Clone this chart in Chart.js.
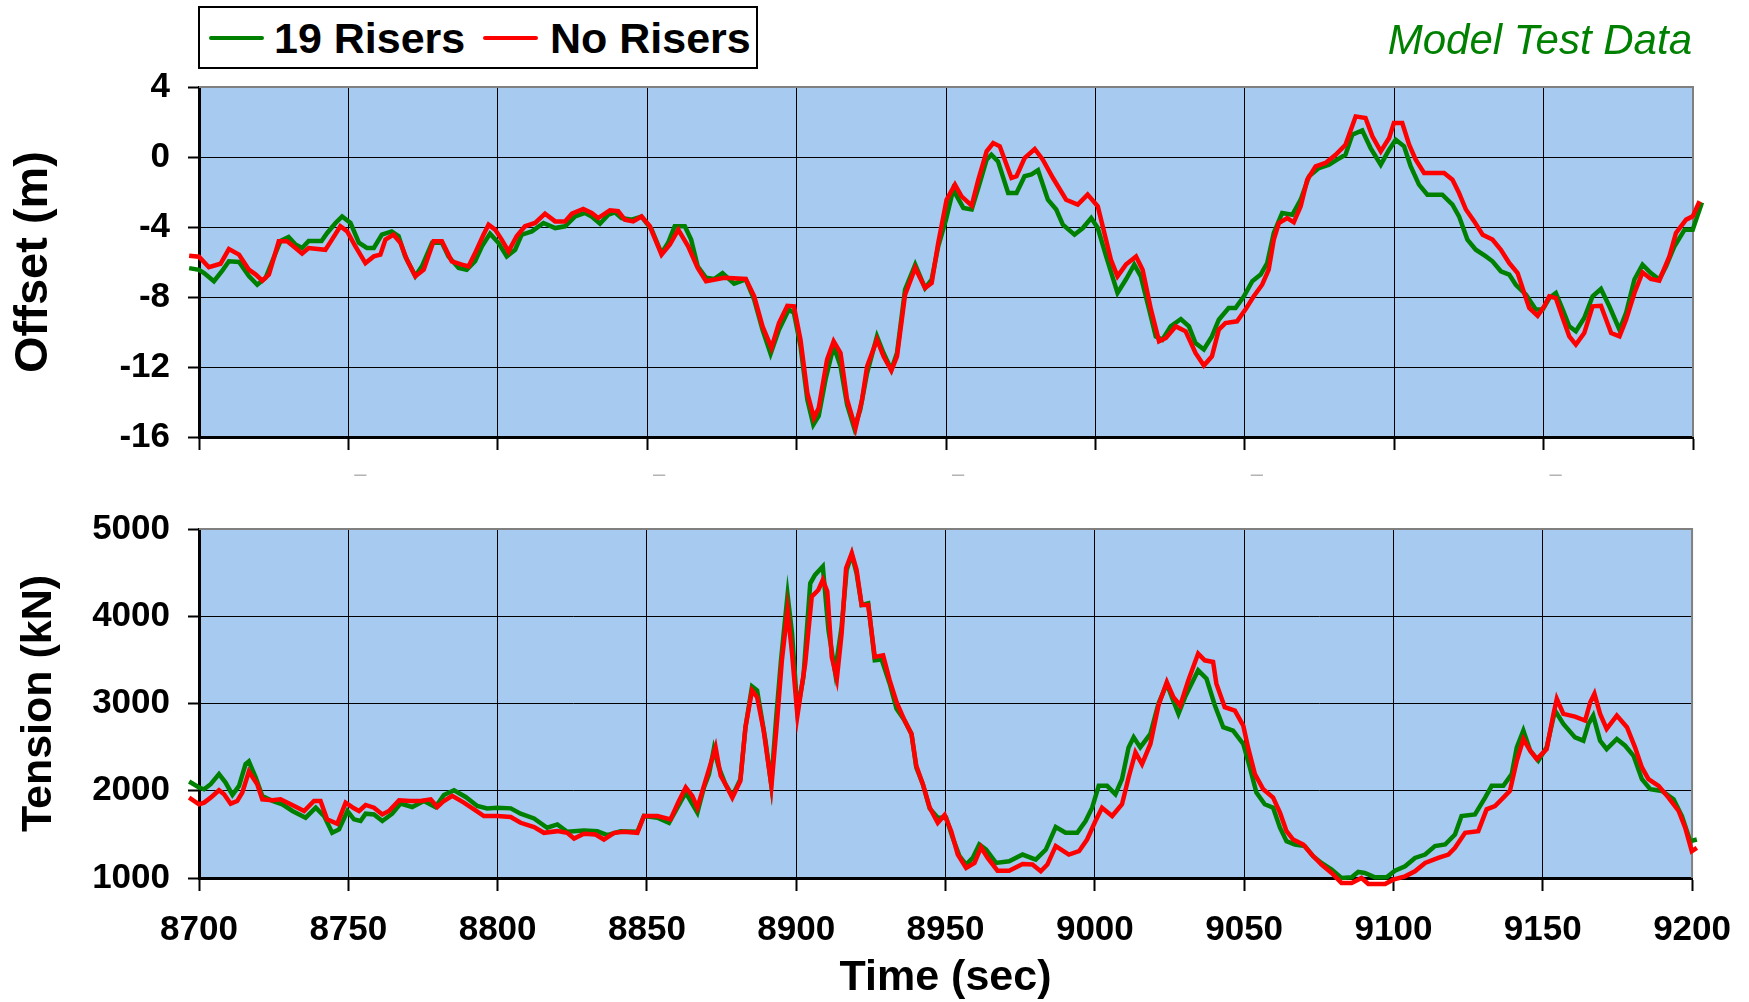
<!DOCTYPE html>
<html>
<head>
<meta charset="utf-8">
<title>Offset and Tension - Model Test Data</title>
<script src="https://cdn.jsdelivr.net/npm/chart.js@4.4.0/dist/chart.umd.min.js"></script>
<style>
  html, body { margin: 0; padding: 0; background: #fff; }
  body { width: 1749px; height: 1002px; position: relative; overflow: hidden;
         font-family: "Liberation Sans", Arial, sans-serif; }
  canvas { display: block; }
  #topWrap { position: absolute; left: 0; top: 0; width: 1749px; height: 490px; }
  #botWrap { position: absolute; left: 0; top: 490px; width: 1749px; height: 512px; }
  .legend { position: absolute; left: 198px; top: 6px; width: 556px; height: 59px;
            border: 2px solid #000; background: #fff; z-index: 2; }
  .legend .swatch { position: absolute; top: 28px; width: 55px; height: 4px; border-radius: 2px; }
  .legend .label { position: absolute; top: 9px; font-size: 43px; line-height: 43px;
                   font-weight: bold; color: #000; white-space: nowrap; }
  .note { position: absolute; right: 57px; top: 19px; font-size: 42px; line-height: 42px;
          font-style: italic; color: #008000; white-space: nowrap; z-index: 2; }
</style>
</head>
<body>
<div id="topWrap"><canvas id="offsetChart" width="1749" height="490"></canvas></div>
<div id="botWrap"><canvas id="tensionChart" width="1749" height="512"></canvas></div>
<div class="legend">
  <div class="swatch" style="left:9px;background:#008000"></div>
  <div class="label" style="left:74px">19 Risers</div>
  <div class="swatch" style="left:283px;background:#ff0000"></div>
  <div class="label" style="left:350px">No Risers</div>
</div>
<div class="note">Model Test Data</div>

<script>
// ---- data (time in sec) ----
const xTicks = { min: 8700, max: 9200, step: 50 };
const offsetTicks = { min: -16, max: 4, step: 4 };
const tensionTicks = { min: 1000, max: 5000, step: 1000 };

// Offset (m), 19 Risers
const offsetTime19 = [8696.7, 8700.0, 8701.7, 8705.0, 8707.8, 8710.0, 8713.4, 8716.7, 8719.5, 8722.3, 8725.6, 8727.3, 8730.0, 8732.3, 8734.5, 8736.7, 8741.0, 8742.9, 8745.7, 8747.9, 8750.7, 8753.5, 8756.2, 8758.5, 8761.2, 8764.5, 8766.8, 8769.0, 8772.4, 8774.6, 8778.0, 8781.3, 8783.5, 8786.9, 8789.6, 8792.4, 8794.7, 8797.4, 8800.2, 8803.0, 8805.8, 8808.0, 8811.4, 8815.3, 8819.2, 8822.5, 8825.9, 8829.2, 8831.4, 8834.2, 8837.0, 8839.2, 8841.4, 8844.8, 8848.1, 8851.5, 8854.8, 8857.0, 8859.2, 8862.6, 8864.7, 8866.9, 8869.7, 8872.4, 8875.2, 8879.1, 8883.0, 8885.8, 8888.6, 8891.3, 8894.1, 8897.4, 8899.1, 8901.3, 8903.6, 8905.6, 8907.4, 8909.7, 8912.4, 8914.7, 8916.9, 8919.3, 8921.3, 8923.6, 8926.9, 8929.1, 8931.7, 8933.6, 8936.3, 8939.7, 8943.0, 8945.2, 8947.4, 8950.0, 8952.4, 8955.8, 8958.6, 8961.3, 8963.6, 8965.2, 8967.4, 8970.8, 8973.6, 8976.3, 8978.6, 8980.8, 8984.1, 8986.9, 8989.1, 8993.0, 8995.8, 8998.6, 9000.8, 9003.6, 9007.4, 9010.2, 9013.0, 9015.2, 9018.0, 9020.2, 9022.4, 9025.2, 9028.6, 9031.3, 9033.5, 9036.3, 9039.0, 9041.3, 9044.6, 9046.9, 9049.7, 9052.5, 9055.3, 9057.5, 9059.7, 9062.5, 9065.9, 9068.7, 9071.5, 9074.8, 9078.2, 9080.9, 9083.7, 9086.0, 9089.3, 9092.1, 9095.5, 9098.3, 9100.5, 9103.3, 9105.5, 9108.3, 9111.1, 9116.1, 9119.5, 9121.7, 9124.5, 9127.3, 9130.7, 9132.9, 9135.7, 9138.5, 9140.7, 9144.1, 9147.4, 9149.7, 9151.9, 9154.1, 9156.4, 9158.6, 9160.8, 9163.6, 9166.4, 9169.2, 9172.0, 9175.4, 9177.6, 9180.4, 9183.1, 9185.9, 9188.7, 9191.0, 9193.8, 9197.2, 9199.9, 9203.0];
const offset19 = [-6.35, -6.45, -6.63, -7.1, -6.5, -5.96, -6.0, -6.8, -7.3, -6.9, -5.5, -4.8, -4.57, -5.0, -5.2, -4.8, -4.8, -4.34, -3.77, -3.4, -3.77, -4.9, -5.2, -5.2, -4.44, -4.25, -4.53, -5.68, -6.8, -6.25, -4.9, -4.9, -5.68, -6.34, -6.44, -5.96, -5.1, -4.38, -4.9, -5.68, -5.3, -4.44, -4.25, -3.77, -4.06, -3.96, -3.4, -3.2, -3.4, -3.81, -3.3, -3.16, -3.49, -3.58, -3.4, -4.15, -5.5, -4.9, -3.96, -3.96, -4.72, -6.25, -6.9, -6.97, -6.63, -7.24, -7.0, -8.15, -9.87, -11.24, -9.87, -8.72, -8.9, -10.8, -13.87, -15.3, -14.8, -12.7, -10.8, -11.96, -14.15, -15.5, -14.44, -12.34, -10.25, -11.2, -12.15, -11.2, -7.58, -6.15, -7.49, -7.0, -5.1, -3.58, -1.87, -2.91, -3.0, -1.49, -0.15, 0.13, -0.25, -2.06, -2.06, -1.1, -1.0, -0.76, -2.44, -3.0, -3.87, -4.44, -4.06, -3.49, -4.06, -5.68, -7.77, -7.0, -6.15, -6.82, -8.72, -10.25, -10.44, -9.68, -9.26, -9.68, -10.63, -11.0, -10.25, -9.3, -8.63, -8.63, -7.96, -7.1, -6.72, -6.06, -4.34, -3.2, -3.3, -2.44, -1.1, -0.63, -0.44, -0.15, 0.13, 1.28, 1.52, 0.51, -0.44, 0.42, 0.99, 0.61, -0.53, -1.58, -2.15, -2.15, -2.72, -3.39, -4.72, -5.3, -5.68, -5.96, -6.53, -6.72, -7.3, -7.87, -8.72, -8.72, -8.06, -7.77, -8.72, -9.68, -9.96, -9.2, -7.96, -7.54, -8.53, -9.87, -8.91, -7.0, -6.15, -6.63, -7.0, -6.25, -5.1, -4.15, -4.15, -2.6];

// Offset (m), No Risers
const offsetTimeNo = [8696.7, 8700.0, 8703.3, 8707.2, 8710.0, 8713.4, 8716.7, 8719.0, 8721.2, 8723.4, 8726.7, 8729.5, 8732.3, 8734.5, 8736.7, 8742.3, 8744.5, 8747.3, 8749.6, 8752.3, 8755.7, 8758.5, 8760.7, 8762.4, 8765.1, 8767.4, 8769.6, 8772.4, 8775.2, 8778.5, 8781.3, 8784.6, 8788.0, 8790.2, 8792.4, 8795.2, 8796.9, 8799.1, 8801.3, 8803.6, 8806.3, 8809.1, 8812.5, 8815.8, 8819.2, 8822.5, 8824.8, 8828.6, 8831.4, 8833.6, 8837.5, 8840.3, 8842.5, 8845.3, 8848.1, 8850.9, 8854.8, 8857.6, 8860.4, 8863.7, 8866.9, 8869.7, 8875.8, 8883.0, 8885.8, 8888.6, 8891.6, 8894.1, 8896.9, 8899.1, 8901.3, 8903.6, 8905.8, 8907.4, 8910.2, 8912.4, 8914.7, 8916.9, 8919.7, 8921.9, 8923.6, 8926.9, 8929.1, 8931.7, 8933.6, 8936.3, 8939.7, 8943.0, 8945.2, 8947.4, 8950.2, 8953.0, 8955.2, 8958.6, 8960.8, 8963.6, 8965.8, 8968.0, 8971.9, 8973.6, 8976.3, 8979.7, 8982.4, 8985.8, 8990.2, 8994.1, 8997.4, 9000.8, 9003.0, 9005.2, 9007.4, 9010.2, 9013.6, 9015.8, 9018.6, 9021.3, 9023.6, 9026.9, 9030.2, 9033.5, 9036.3, 9039.0, 9041.3, 9043.5, 9047.4, 9050.2, 9053.0, 9055.8, 9058.0, 9059.7, 9061.4, 9064.2, 9066.4, 9068.7, 9070.9, 9073.7, 9077.0, 9080.4, 9083.7, 9087.1, 9090.4, 9092.7, 9095.5, 9098.3, 9099.9, 9102.7, 9105.0, 9107.2, 9110.0, 9116.7, 9119.5, 9121.7, 9124.0, 9126.8, 9129.6, 9132.9, 9135.7, 9138.5, 9141.3, 9143.5, 9145.2, 9148.0, 9150.2, 9151.9, 9154.1, 9156.4, 9158.6, 9160.8, 9163.6, 9166.4, 9169.2, 9172.6, 9175.4, 9177.6, 9180.4, 9183.1, 9185.9, 9188.7, 9192.1, 9194.3, 9197.7, 9199.9, 9202.2, 9203.0];
const offsetNo = [-5.64, -5.7, -6.3, -6.1, -5.26, -5.58, -6.44, -6.72, -7.07, -6.72, -4.82, -4.82, -5.2, -5.52, -5.2, -5.3, -4.72, -3.96, -4.25, -5.1, -6.06, -5.68, -5.58, -4.72, -4.44, -4.9, -5.87, -6.82, -6.44, -4.82, -4.82, -5.96, -6.15, -6.25, -5.49, -4.44, -3.87, -4.15, -4.72, -5.39, -4.53, -3.96, -3.77, -3.24, -3.68, -3.68, -3.24, -2.97, -3.2, -3.49, -3.05, -3.1, -3.58, -3.68, -3.4, -3.96, -5.58, -5.0, -4.15, -5.1, -6.34, -7.1, -6.9, -6.97, -7.96, -9.68, -10.9, -9.49, -8.5, -8.53, -10.44, -13.49, -14.9, -14.34, -11.58, -10.53, -11.2, -13.87, -15.5, -13.87, -11.96, -10.44, -11.39, -12.2, -11.39, -7.87, -6.34, -7.49, -7.2, -4.91, -2.44, -1.58, -2.25, -2.78, -1.3, 0.32, 0.8, 0.61, -1.2, -1.1, -0.06, 0.46, -0.15, -1.2, -2.44, -2.72, -2.15, -2.82, -4.34, -5.87, -6.82, -6.15, -5.68, -6.44, -8.72, -10.53, -10.34, -9.68, -9.96, -11.2, -11.92, -11.39, -9.87, -9.49, -9.39, -8.72, -7.96, -7.3, -6.44, -4.72, -3.77, -3.49, -3.73, -2.82, -1.3, -0.53, -0.34, 0.13, 0.7, 2.32, 2.23, 1.18, 0.32, 1.09, 1.94, 1.94, 0.7, -0.15, -0.91, -0.91, -1.3, -2.06, -3.0, -3.68, -4.44, -4.72, -5.3, -6.06, -6.63, -7.77, -8.63, -9.07, -8.53, -7.96, -8.06, -9.2, -10.25, -10.72, -10.06, -8.53, -8.5, -10.06, -10.25, -9.3, -7.77, -6.59, -6.97, -7.07, -5.68, -4.34, -3.58, -3.39, -2.53, -1.6];

// Tension (kN), 19 Risers
const tensionTime19 = [8696.7, 8700.0, 8701.7, 8703.9, 8706.7, 8708.9, 8711.2, 8713.4, 8715.6, 8716.7, 8719.0, 8721.2, 8724.6, 8727.9, 8731.3, 8735.7, 8739.1, 8741.9, 8744.6, 8746.9, 8749.7, 8751.9, 8754.1, 8755.8, 8758.6, 8761.4, 8764.7, 8767.5, 8771.4, 8775.3, 8779.2, 8782.0, 8785.4, 8789.3, 8793.2, 8796.5, 8799.9, 8804.4, 8807.7, 8812.2, 8816.6, 8820.0, 8823.3, 8828.9, 8833.4, 8836.7, 8841.2, 8846.8, 8849.0, 8853.5, 8857.4, 8860.2, 8863.0, 8866.9, 8869.1, 8870.8, 8872.4, 8874.1, 8876.3, 8878.6, 8881.3, 8883.0, 8885.2, 8886.9, 8888.6, 8889.7, 8891.6, 8893.3, 8894.9, 8897.1, 8898.6, 8900.4, 8902.4, 8904.7, 8906.3, 8908.9, 8910.8, 8913.0, 8915.2, 8916.9, 8918.6, 8920.2, 8921.9, 8924.1, 8926.3, 8928.6, 8931.3, 8933.6, 8936.3, 8938.6, 8940.2, 8942.4, 8944.7, 8947.4, 8950.2, 8952.4, 8954.7, 8956.9, 8959.1, 8961.3, 8963.6, 8966.9, 8971.3, 8975.8, 8980.2, 8983.6, 8986.9, 8990.2, 8994.1, 8996.9, 8999.1, 9001.3, 9004.1, 9006.9, 9009.1, 9011.3, 9013.0, 9015.2, 9018.6, 9021.3, 9024.1, 9025.8, 9028.0, 9030.2, 9034.6, 9037.4, 9040.2, 9043.0, 9046.3, 9049.7, 9051.9, 9054.1, 9056.9, 9059.7, 9062.0, 9064.2, 9067.0, 9070.3, 9073.1, 9075.9, 9079.3, 9082.6, 9086.0, 9088.2, 9090.4, 9093.8, 9097.7, 9100.5, 9103.9, 9107.2, 9110.6, 9113.9, 9117.3, 9120.6, 9122.8, 9127.3, 9130.7, 9132.9, 9136.8, 9139.6, 9141.3, 9143.5, 9145.8, 9148.5, 9151.3, 9154.1, 9156.9, 9160.8, 9163.6, 9165.3, 9166.9, 9169.2, 9171.4, 9174.8, 9177.6, 9180.4, 9183.2, 9186.0, 9189.9, 9193.8, 9196.6, 9199.4, 9201.6, 9203.0];
const tension19 = [2106, 2037, 2017, 2075, 2190, 2094, 1952, 2056, 2305, 2336, 2152, 1941, 1883, 1845, 1768, 1691, 1806, 1710, 1518, 1557, 1768, 1672, 1653, 1737, 1729, 1653, 1737, 1852, 1814, 1883, 1814, 1952, 2006, 1929, 1825, 1798, 1806, 1798, 1737, 1683, 1576, 1614, 1530, 1545, 1537, 1491, 1537, 1530, 1710, 1691, 1633, 1806, 1979, 1749, 2037, 2190, 2478, 2267, 2075, 1941, 2133, 2728, 3196, 3150, 2804, 2574, 2075, 2843, 3495, 4244, 3802, 2919, 3303, 4378, 4474, 4570, 3841, 3361, 3879, 4532, 4705, 4494, 4129, 4148, 3495, 3503, 3227, 2939, 2804, 2651, 2267, 2075, 1798, 1691, 1691, 1461, 1250, 1154, 1230, 1384, 1326, 1173, 1192, 1269, 1211, 1326, 1584, 1518, 1518, 1653, 1806, 2056, 2056, 1960, 2133, 2497, 2612, 2497, 2651, 2996, 3227, 3073, 2881, 3073, 3380, 3284, 2977, 2728, 2689, 2536, 2267, 1979, 1845, 1806, 1576, 1422, 1384, 1365, 1250, 1173, 1096, 1000, 1008, 1069, 1058, 1008, 1008, 1084, 1134, 1230, 1269, 1365, 1384, 1499, 1710, 1729, 1921, 2056, 2056, 2190, 2497, 2689, 2459, 2344, 2497, 2919, 2766, 2612, 2574, 2766, 2862, 2574, 2478, 2593, 2516, 2401, 2133, 2017, 1998, 1902, 1710, 1422, 1441, 1640];

// Tension (kN), No Risers
const tensionTimeNo = [8696.7, 8700.0, 8701.7, 8703.9, 8706.7, 8708.4, 8710.6, 8712.8, 8714.5, 8716.7, 8719.5, 8721.2, 8724.6, 8727.3, 8730.7, 8735.2, 8738.5, 8740.7, 8742.9, 8746.3, 8749.1, 8751.9, 8753.6, 8755.8, 8758.6, 8761.4, 8763.6, 8767.0, 8770.9, 8774.2, 8777.6, 8779.8, 8782.0, 8784.8, 8788.7, 8792.1, 8795.4, 8799.9, 8804.4, 8807.7, 8812.2, 8815.5, 8820.0, 8823.3, 8825.6, 8828.9, 8832.8, 8835.6, 8839.0, 8842.3, 8846.8, 8849.0, 8853.5, 8857.9, 8860.7, 8863.0, 8865.2, 8866.9, 8869.1, 8870.8, 8873.0, 8874.7, 8876.3, 8878.6, 8881.3, 8883.0, 8885.2, 8886.9, 8889.1, 8891.7, 8893.6, 8895.2, 8897.1, 8898.6, 8900.4, 8903.0, 8905.2, 8907.4, 8908.9, 8910.4, 8911.9, 8913.6, 8915.2, 8916.7, 8918.6, 8920.2, 8921.9, 8924.1, 8926.3, 8929.1, 8931.3, 8933.6, 8936.3, 8938.6, 8940.2, 8942.4, 8944.7, 8947.4, 8949.7, 8951.9, 8954.1, 8956.9, 8959.7, 8961.9, 8964.1, 8967.4, 8971.3, 8975.8, 8979.1, 8981.9, 8984.1, 8986.9, 8991.3, 8994.7, 8997.4, 9000.2, 9002.4, 9005.8, 9009.1, 9011.3, 9013.6, 9015.8, 9018.6, 9021.3, 9024.1, 9026.3, 9028.6, 9031.3, 9034.6, 9036.8, 9039.6, 9040.7, 9043.5, 9046.9, 9049.7, 9051.3, 9053.6, 9056.4, 9059.7, 9062.0, 9064.2, 9066.4, 9069.8, 9072.6, 9075.9, 9079.3, 9082.6, 9086.0, 9089.3, 9091.6, 9097.2, 9099.9, 9103.9, 9107.2, 9110.6, 9115.0, 9118.4, 9120.6, 9124.0, 9128.4, 9131.2, 9134.0, 9136.8, 9139.0, 9141.3, 9143.5, 9145.8, 9148.0, 9151.3, 9153.6, 9154.7, 9156.9, 9160.8, 9164.2, 9165.9, 9167.3, 9169.2, 9171.4, 9174.8, 9178.2, 9180.9, 9183.2, 9185.4, 9188.8, 9192.1, 9195.5, 9197.7, 9199.9, 9201.6, 9203.0];
const tensionNo = [1921, 1845, 1864, 1921, 2006, 1960, 1852, 1883, 1979, 2221, 2075, 1902, 1891, 1902, 1845, 1768, 1883, 1883, 1672, 1622, 1864, 1798, 1768, 1837, 1806, 1729, 1768, 1891, 1883, 1883, 1902, 1814, 1883, 1941, 1864, 1787, 1710, 1710, 1699, 1633, 1584, 1518, 1537, 1518, 1453, 1507, 1499, 1441, 1518, 1530, 1518, 1710, 1710, 1672, 1883, 2037, 1941, 1806, 2056, 2248, 2497, 2171, 2075, 1921, 2113, 2728, 3150, 3073, 2689, 2056, 2804, 3495, 4071, 3572, 2862, 3457, 4225, 4301, 4417, 4283, 3534, 3284, 3802, 4551, 4724, 4532, 4129, 4129, 3534, 3553, 3265, 3015, 2804, 2651, 2286, 2075, 1806, 1633, 1722, 1537, 1269, 1115, 1173, 1353, 1230, 1084, 1084, 1161, 1154, 1077, 1154, 1365, 1269, 1307, 1441, 1653, 1806, 1710, 1845, 2152, 2440, 2305, 2536, 2977, 3246, 3073, 2977, 3265, 3572, 3495, 3476, 3227, 2958, 2919, 2747, 2497, 2190, 2017, 1921, 1749, 1537, 1441, 1384, 1269, 1154, 1058, 942, 942, 1000, 931, 931, 981, 1019, 1077, 1173, 1230, 1269, 1346, 1518, 1537, 1787, 1825, 1921, 1998, 2344, 2593, 2459, 2363, 2478, 2881, 3054, 2881, 2850, 2804, 3015, 3111, 2881, 2709, 2862, 2728, 2497, 2267, 2133, 2056, 1921, 1768, 1576, 1307, 1346, 1400];

const GREEN = '#008000';
const RED = '#ff0000';
const PLOT_BG = '#a6caf0';

Chart.defaults.font.family = "'Liberation Sans', Arial, sans-serif";
Chart.defaults.color = '#000';

const toPoints = (t, v) => t.map((x, i) => ({ x: x, y: v[i] }));

// plot area fill + grey top/right frame, like the spreadsheet original
const plotFrame = {
    id: 'plotFrame',
    beforeDraw(chart) {
        const a = chart.chartArea, ctx = chart.ctx;
        ctx.save();
        ctx.fillStyle = PLOT_BG;
        ctx.fillRect(a.left, a.top, a.right - a.left, a.bottom - a.top);
        ctx.restore();
    },
    beforeDatasetsDraw(chart) {
        const a = chart.chartArea, ctx = chart.ctx;
        ctx.save();
        ctx.strokeStyle = '#808080';
        ctx.lineWidth = 2;
        ctx.beginPath();
        ctx.moveTo(a.left, a.top);
        ctx.lineTo(a.right, a.top);
        ctx.lineTo(a.right, a.bottom);
        ctx.stroke();
        ctx.restore();
    }
};

function lineSet(label, pts, color, order) {
    return {
        label: label,
        data: pts,
        borderColor: color,
        backgroundColor: color,
        borderWidth: 4.5,
        pointRadius: 0,
        tension: 0,
        fill: false,
        order: order,
        clip: { left: 12, top: 6, right: 14, bottom: 10 }
    };
}

function yScale(t, titleText, titleSize, titlePad) {
    return {
        type: 'linear',
        min: t.min,
        max: t.max,
        afterFit: s => { s.width = 199; },
        ticks: {
            stepSize: t.step,
            padding: 18,
            font: { size: 35, weight: 'bold' },
            callback: v => String(v)
        },
        grid: { color: '#000', lineWidth: 1, tickLength: 11, tickColor: '#000', tickWidth: 2 },
        border: { color: '#000', width: 3 },
        title: {
            display: true,
            text: titleText,
            font: { size: titleSize, weight: 'bold', lineHeight: 1 },
            padding: { top: titlePad, bottom: 0 }
        }
    };
}

// ---- Chart 1: Offset ----
new Chart(document.getElementById('offsetChart').getContext('2d'), {
    type: 'line',
    data: {
        datasets: [
            lineSet('19 Risers', toPoints(offsetTime19, offset19), GREEN, 1),
            lineSet('No Risers', toPoints(offsetTimeNo, offsetNo), RED, 0)
        ]
    },
    options: {
        responsive: false,
        animation: false,
        devicePixelRatio: 1,
        layout: { padding: { top: 87, right: 56, left: 0, bottom: 0 } },
        plugins: { legend: { display: false }, tooltip: { enabled: false } },
        scales: {
            x: {
                type: 'linear',
                min: xTicks.min,
                max: xTicks.max,
                afterFit: s => { s.height = 53; },
                ticks: {
                    stepSize: xTicks.step,
                    autoSkip: false,
                    maxRotation: 0,
                    padding: 12,
                    labelOffset: 12,
                    color: '#b4b4b4',
                    font: { size: 22 },
                    // faint dash marks left between the two panels in the original
                    callback: v => ((v - 8750) % 100 === 0 ? '\u2013' : '')
                },
                grid: { color: '#000', lineWidth: 1, tickLength: 13, tickColor: '#000', tickWidth: 2 },
                border: { color: '#000', width: 3 }
            },
            y: yScale(offsetTicks, 'Offset (m)', 47, 11)
        }
    },
    plugins: [plotFrame]
});

// ---- Chart 2: Tension ----
new Chart(document.getElementById('tensionChart').getContext('2d'), {
    type: 'line',
    data: {
        datasets: [
            lineSet('19 Risers', toPoints(tensionTime19, tension19), GREEN, 1),
            lineSet('No Risers', toPoints(tensionTimeNo, tensionNo), RED, 0)
        ]
    },
    options: {
        responsive: false,
        animation: false,
        devicePixelRatio: 1,
        layout: { padding: { top: 39, right: 56, left: 0, bottom: 0 } },
        plugins: { legend: { display: false }, tooltip: { enabled: false } },
        scales: {
            x: {
                type: 'linear',
                min: xTicks.min,
                max: xTicks.max,
                afterFit: s => { s.height = 124; },
                ticks: {
                    stepSize: xTicks.step,
                    autoSkip: false,
                    maxRotation: 0,
                    padding: 18,
                    font: { size: 35, weight: 'bold' },
                    callback: v => String(v)
                },
                grid: { color: '#000', lineWidth: 1, tickLength: 13, tickColor: '#000', tickWidth: 2 },
                border: { color: '#000', width: 3 },
                title: {
                    display: true,
                    text: 'Time (sec)',
                    font: { size: 43, weight: 'bold', lineHeight: 1 },
                    padding: { top: 0, bottom: 2 }
                }
            },
            y: yScale(tensionTicks, 'Tension (kN)', 43, 18)
        }
    },
    plugins: [plotFrame]
});
</script>
</body>
</html>
